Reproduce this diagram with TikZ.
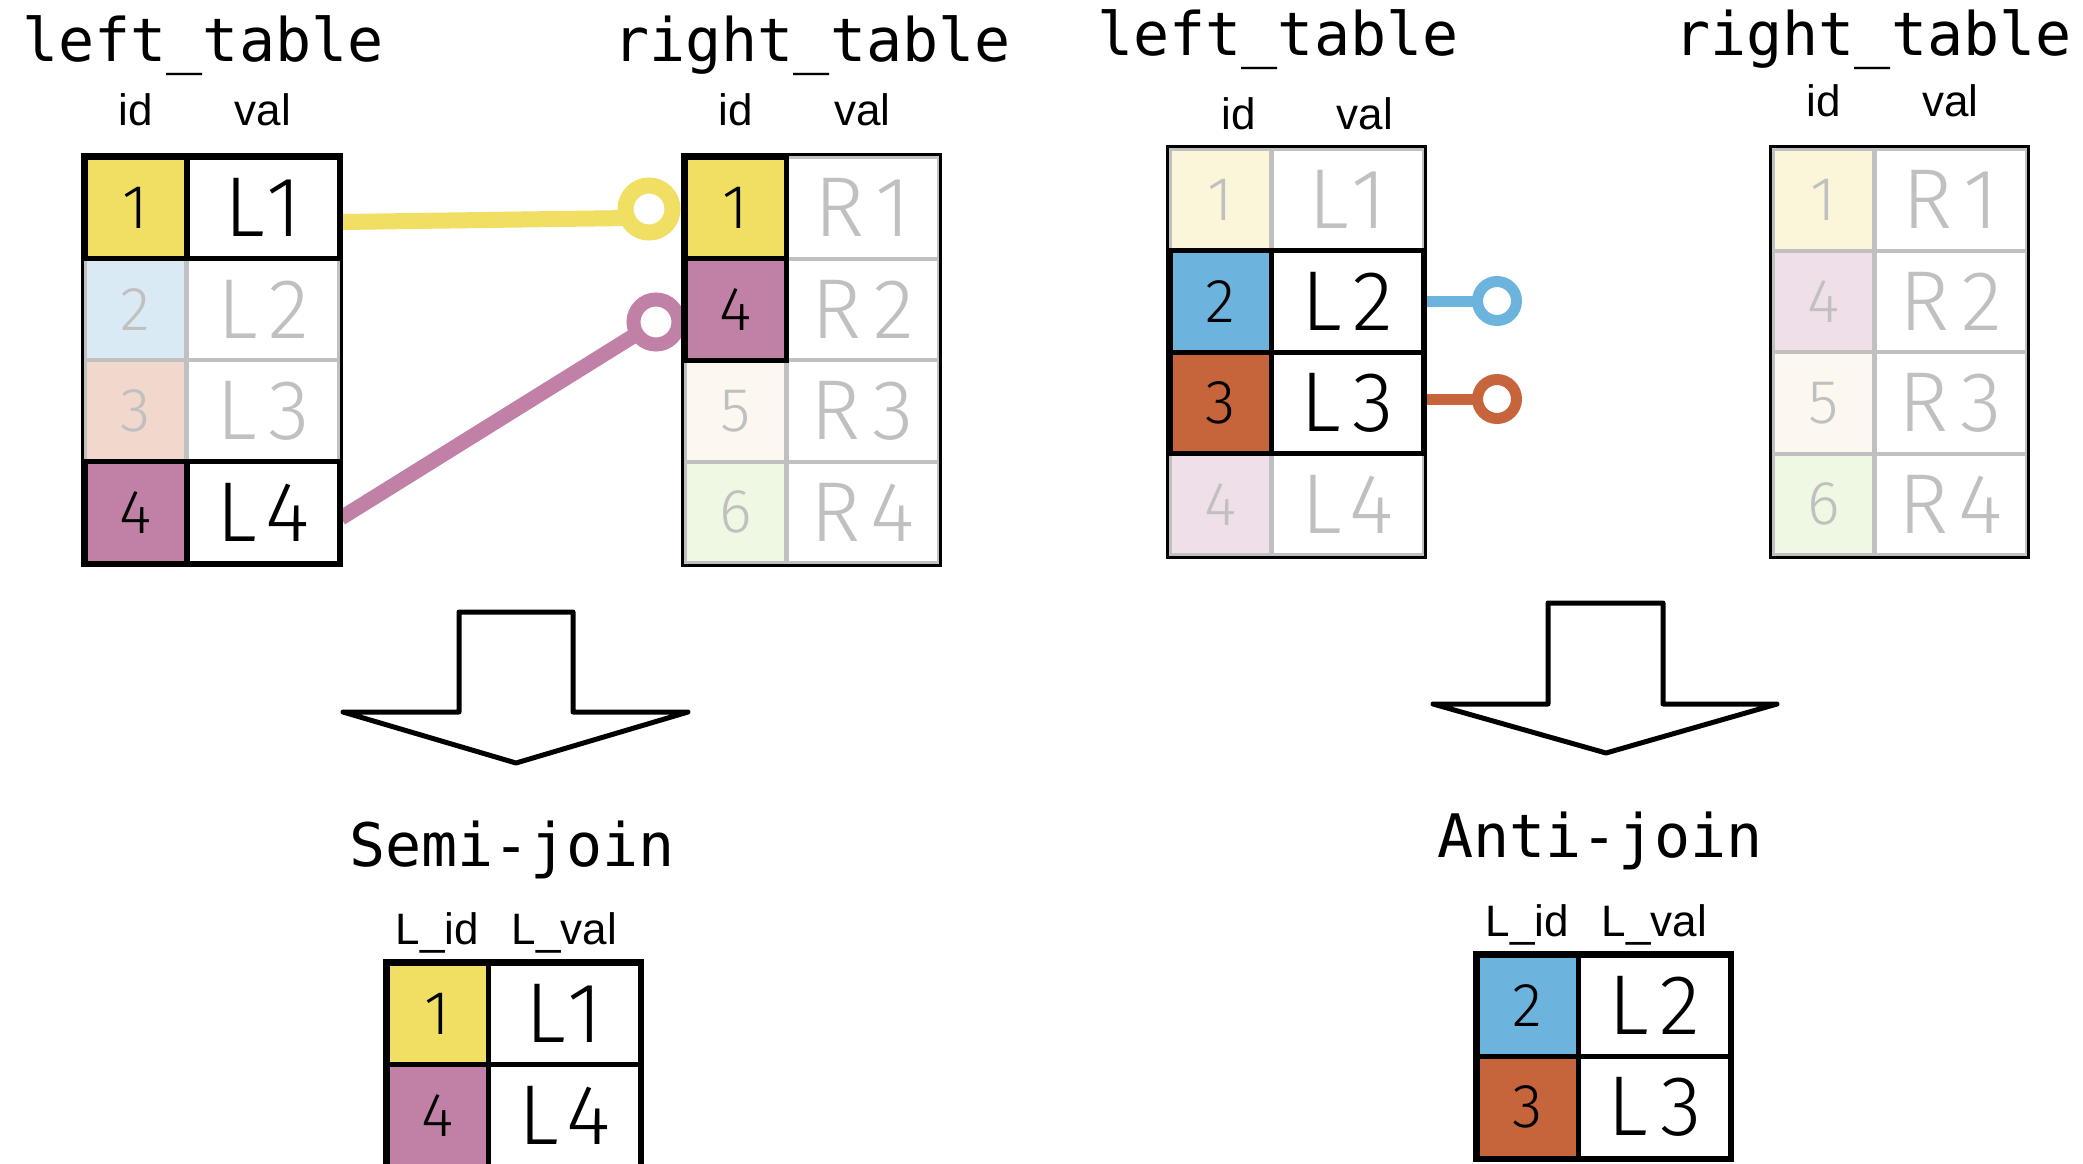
\documentclass[tikz,border=0pt]{standalone}
\usepackage{fontspec}
\newfontfamily\titlefont{DejaVu Sans Mono}
\newfontfamily\headfont{Liberation Sans}
\newfontfamily\cellfont{Fira Sans Light}
\newfontfamily\valfont{Fira Sans Light}[LetterSpace=14]
\definecolor{cyellow}{HTML}{F1DF63}
\definecolor{cpurple}{HTML}{C180A6}
\definecolor{cblue}{HTML}{6CB4DD}
\definecolor{corange}{HTML}{C6653C}
\definecolor{fyellow}{HTML}{FBF6DA}
\definecolor{fblue}{HTML}{DAEAF4}
\definecolor{forange}{HTML}{F1D7CC}
\definecolor{fpurple}{HTML}{EFDFE9}
\definecolor{fcream}{HTML}{FCF8F0}
\definecolor{fgreen}{HTML}{EEF8E2}
\definecolor{cgray}{HTML}{C0C0C0}
\tikzset{
  cellbase/.style={rectangle, inner sep=0pt, outer sep=0pt, minimum height=101.5pt},
  idcell/.style={cellbase, minimum width=101pt, font=\cellfont\fontsize{62pt}{62pt}\selectfont},
  valcell/.style={cellbase, minimum width=152pt, fill=white, font=\valfont\fontsize{85pt}{85pt}\selectfont},
  faded/.style={draw=cgray, line width=4pt, text=cgray},
  active/.style={draw=black, line width=5pt, text=black},
  frame/.style={draw=black, line width=3pt},
  title/.style={anchor=base, inner sep=0pt, font=\titlefont\fontsize{60pt}{60pt}\selectfont},
  head/.style={anchor=base, inner sep=0pt, font=\headfont\fontsize{44pt}{44pt}\selectfont},
  bigarrow/.style={draw=black, line width=5pt, line join=round, fill=white},
  conn/.style={line width=#1},
  ring/.style={circle, fill=white, inner sep=0pt, outer sep=0pt},
}
\begin{document}
\begin{tikzpicture}[x=1pt, y=-1pt]
\useasboundingbox (0,0) rectangle (2083,1164);
\fill[white] (0,0) rectangle (2083,1164);

% ---------------- Semi-join ----------------
\node[title] (t1) at (203,62) {left\_table};
\node[title] (t2) at (812,62) {right\_table};
\node[head] (h1) at (135.5,125) {id};
\node[head] (h2) at (263,125) {val};
\node[head] (h3) at (735.5,125) {id};
\node[head] (h4) at (862.5,125) {val};

% connectors (drawn first, tables on top)
\coordinate (ys) at (341,222);
\coordinate (ye) at (630,218);
\coordinate (yc) at (649,209);
\coordinate (ps) at (341,518);
\coordinate (pc) at (656,322);
\draw[cyellow, conn=16pt, line cap=round] (ys) -- (ye) -- (yc);
\draw[cpurple, conn=15pt] (ps) -- (pc);
\node[ring, draw=cyellow, line width=16pt, minimum size=47pt] (ry) at (yc) {};
\node[ring, draw=cpurple, line width=14pt, minimum size=45pt] (rp) at (pc) {};

% left table (semi)
\node[idcell, faded, fill=fblue] (sl2i) at (135.5,309.25) {2};
\node[valcell, faded] (sl2v) at (263,309.25) {L2};
\node[idcell, faded, fill=forange] (sl3i) at (135.5,410.75) {3};
\node[valcell, faded] (sl3v) at (263,410.75) {L3};
\draw[frame] (82.5,154.5) rectangle (341.5,565.5);
\node[idcell, active, fill=cyellow] (sl1i) at (135.5,207.75) {1};
\node[valcell, active] (sl1v) at (263,207.75) {L1};
\node[idcell, active, fill=cpurple] (sl4i) at (135.5,512.25) {4};
\node[valcell, active] (sl4v) at (263,512.25) {L4};

% right table (semi)
\node[valcell, faded] (sr1v) at (862.5,207.75) {R1};
\node[valcell, faded] (sr2v) at (862.5,309.25) {R2};
\node[idcell, faded, fill=fcream] (sr3i) at (735.5,410.75) {5};
\node[valcell, faded] (sr3v) at (862.5,410.75) {R3};
\node[idcell, faded, fill=fgreen] (sr4i) at (735.5,512.25) {6};
\node[valcell, faded] (sr4v) at (862.5,512.25) {R4};
\draw[frame] (682.5,154.5) rectangle (940.5,565.5);
\node[idcell, active, fill=cyellow] (sr1i) at (735.5,207.75) {1};
\node[idcell, active, fill=cpurple] (sr2i) at (735.5,309.25) {4};

% arrow (semi)
\draw[bigarrow] (459,612) -- (573,612) -- (573,712) -- (688,712) -- (516,763) -- (343,712) -- (459,712) -- cycle;
\node[title] (sjt) at (512,866) {Semi-join};
\node[head] (h5) at (437.5,944) {L\_id};
\node[head] (h6) at (564.5,944) {L\_val};
\draw[frame] (384.5,960.5) rectangle (642.5,1170);
\node[idcell, active, fill=cyellow] (sj1i) at (437.5,1013.75) {1};
\node[valcell, active] (sj1v) at (564.5,1013.75) {L1};
\node[idcell, active, fill=cpurple] (sj2i) at (437.5,1115.25) {4};
\node[valcell, active] (sj2v) at (564.5,1115.25) {L4};

% ---------------- Anti-join ----------------
\node[title] (t3) at (1278,56) {left\_table};
\node[title] (t4) at (1873,56) {right\_table};
\node[head] (h7) at (1239,129) {id};
\node[head] (h8) at (1365,129) {val};
\node[head] (h9) at (1823.5,116) {id};
\node[head] (h10) at (1950.5,116) {val};

\coordinate (bs) at (1423,301);
\coordinate (bc) at (1497,301);
\coordinate (os) at (1423,399);
\coordinate (oc) at (1497,399);
\draw[cblue, conn=11pt] (bs) -- (bc);
\draw[corange, conn=11pt] (os) -- (oc);
\node[ring, draw=cblue, line width=11pt, minimum size=39pt] (rb) at (bc) {};
\node[ring, draw=corange, line width=11pt, minimum size=39pt] (ro) at (oc) {};

% left table (anti)
\node[idcell, faded, fill=fyellow] (al1i) at (1220.5,199.75) {1};
\node[valcell, faded] (al1v) at (1347.5,199.75) {L1};
\node[idcell, faded, fill=fpurple] (al4i) at (1220.5,504.25) {4};
\node[valcell, faded] (al4v) at (1347.5,504.25) {L4};
\draw[frame] (1167.5,146.5) rectangle (1425.5,557.5);
\node[idcell, active, fill=cblue] (al2i) at (1220.5,301.25) {2};
\node[valcell, active] (al2v) at (1347.5,301.25) {L2};
\node[idcell, active, fill=corange] (al3i) at (1220.5,402.75) {3};
\node[valcell, active] (al3v) at (1347.5,402.75) {L3};

% right table (anti)
\node[idcell, faded, fill=fyellow] (ar1i) at (1823.5,199.75) {1};
\node[valcell, faded] (ar1v) at (1950.5,199.75) {R1};
\node[idcell, faded, fill=fpurple] (ar2i) at (1823.5,301.25) {4};
\node[valcell, faded] (ar2v) at (1950.5,301.25) {R2};
\node[idcell, faded, fill=fcream] (ar3i) at (1823.5,402.75) {5};
\node[valcell, faded] (ar3v) at (1950.5,402.75) {R3};
\node[idcell, faded, fill=fgreen] (ar4i) at (1823.5,504.25) {6};
\node[valcell, faded] (ar4v) at (1950.5,504.25) {R4};
\draw[frame] (1770.5,146.5) rectangle (2028.5,557.5);

% arrow (anti)
\draw[bigarrow] (1548,603) -- (1663,603) -- (1663,704) -- (1777,704) -- (1606,753) -- (1433,704) -- (1548,704) -- cycle;
\node[title] (ajt) at (1600,857) {Anti-join};
\node[head] (h11) at (1527.5,936) {L\_id};
\node[head] (h12) at (1654.5,936) {L\_val};
\draw[frame] (1474.5,952.5) rectangle (1732.5,1160.5);
\node[idcell, active, fill=cblue] (aj1i) at (1527.5,1005.75) {2};
\node[valcell, active] (aj1v) at (1654.5,1005.75) {L2};
\node[idcell, active, fill=corange] (aj2i) at (1527.5,1107.25) {3};
\node[valcell, active] (aj2v) at (1654.5,1107.25) {L3};
\end{tikzpicture}
\end{document}
